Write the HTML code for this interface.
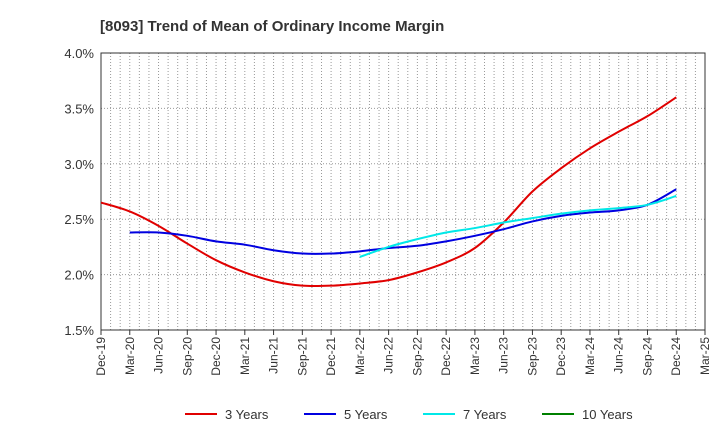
<!DOCTYPE html>
<html><head><meta charset="utf-8"><style>
body{margin:0;background:#fff;font-family:"Liberation Sans",Arial,sans-serif}
svg{display:block}
</style></head><body>
<svg id="c" width="720" height="440">
<text x="100" y="31" font-size="15" font-weight="bold" fill="#333">[8093]  Trend of Mean of Ordinary Income Margin</text>
<g id="grid"></g><g id="axes"></g><g id="series"></g><g id="legend"></g>
</svg>
<script>
const categories=["Dec-19","Mar-20","Jun-20","Sep-20","Dec-20","Mar-21","Jun-21","Sep-21","Dec-21","Mar-22","Jun-22","Sep-22","Dec-22","Mar-23","Jun-23","Sep-23","Dec-23","Mar-24","Jun-24","Sep-24","Dec-24","Mar-25"];
const yTicks=[1.5,2.0,2.5,3.0,3.5,4.0];
const y3=[2.65,2.57,2.44,2.28,2.13,2.02,1.94,1.90,1.90,1.92,1.95,2.02,2.11,2.24,2.47,2.75,2.96,3.14,3.29,3.43,3.60];
const y5=[null,2.38,2.38,2.35,2.30,2.27,2.22,2.19,2.19,2.21,2.24,2.26,2.30,2.35,2.41,2.48,2.53,2.56,2.58,2.63,2.77];
const y7=[null,null,null,null,null,null,null,null,null,2.16,2.25,2.32,2.38,2.42,2.47,2.51,2.55,2.58,2.60,2.63,2.71];
const y10=[];
const seriesNames=["3 Years","5 Years","7 Years","10 Years"];
const colors=["#e00000","#0000e0","#00e8e8","#008000"];
const L=101,R=705,T=53,B=330;
const xs=i=>L+(R-L)*i/(categories.length-1);
const ys=v=>B-(v-1.5)/(2.5)*(B-T);
const NS="http://www.w3.org/2000/svg";
function mk(t,a,p){const e=document.createElementNS(NS,t);for(const k in a)e.setAttribute(k,a[k]);p.appendChild(e);return e;}
const grid=document.getElementById('grid'),axes=document.getElementById('axes');
for(let m=1;m<(categories.length-1)*3;m++){const x=L+(R-L)*m/((categories.length-1)*3);
const l=mk('line',{x1:x,x2:x,y1:T,y2:B,stroke:'#999','stroke-dasharray':'1,2','stroke-width':1},grid);
}
yTicks.forEach(v=>{const y=ys(v);
if(v>1.5&&v<4){const l=mk('line',{x1:L,x2:R,y1:y,y2:y,stroke:'#999','stroke-dasharray':'1,2'},grid);
}
const t=mk('text',{x:L-7,y:y+5,'text-anchor':'end','font-size':13,fill:'#333'},axes);t.textContent=v.toFixed(1)+'%';
});
const fr=mk('rect',{x:L,y:T,width:R-L,height:B-T,fill:'none',stroke:'#333'},axes);

categories.forEach((c,i)=>{const x=xs(i);
mk('line',{x1:x,x2:x,y1:B,y2:B+5,stroke:'#333'},axes);
const t=mk('text',{transform:`translate(${x+4},${B+7}) rotate(-90)`,'text-anchor':'end','font-size':12,fill:'#333'},axes);t.textContent=c;
});
function path(data){const p=[];data.forEach((v,i)=>{if(v!=null)p.push([xs(i),ys(v)]);});
if(p.length<2)return '';let d=`M${p[0][0]},${p[0][1]}`;
for(let i=0;i<p.length-1;i++){const p0=p[i-1]||p[i],p1=p[i],p2=p[i+1],p3=p[i+2]||p2;
d+=` C${p1[0]+(p2[0]-p0[0])/6},${p1[1]+(p2[1]-p0[1])/6} ${p2[0]-(p3[0]-p1[0])/6},${p2[1]-(p3[1]-p1[1])/6} ${p2[0]},${p2[1]}`;}return d;}
const sg=document.getElementById('series');
[y3,y5,y7,y10].forEach((s,k)=>{const d=path(s);if(!d)return;
const e=mk('path',{d,fill:'none',stroke:colors[k],'stroke-width':2},sg);
});
const lg=document.getElementById('legend');const lx=[185,304,423,542];
seriesNames.forEach((n,k)=>{const g=mk('g',{},lg);

mk('line',{x1:lx[k],x2:lx[k]+32,y1:414,y2:414,stroke:colors[k],'stroke-width':2},g);
const t=mk('text',{x:lx[k]+40,y:419,'font-size':13,fill:'#333'},g);t.textContent=n;});
</script>
</body></html>
